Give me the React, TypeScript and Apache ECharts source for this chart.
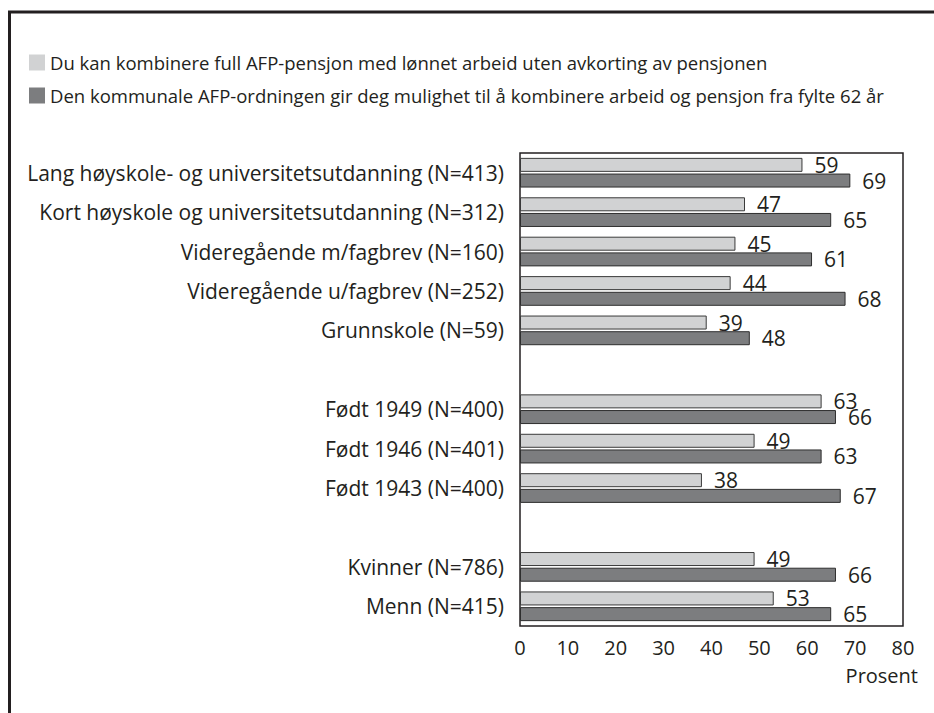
import React, { useEffect, useRef } from "react";
import * as echarts from "echarts";

const categories = [
  "Lang høyskole- og universitetsutdanning (N=413)",
  "Kort høyskole og universitetsutdanning (N=312)",
  "Videregående m/fagbrev (N=160)",
  "Videregående u/fagbrev (N=252)",
  "Grunnskole (N=59)",
  "",
  "Født 1949 (N=400)",
  "Født 1946 (N=401)",
  "Født 1943 (N=400)",
  " ",
  "Kvinner (N=786)",
  "Menn (N=415)",
];

const seriesNames = [
  "Du kan kombinere full AFP-pensjon med lønnet arbeid uten avkorting av pensjonen",
  "Den kommunale AFP-ordningen gir deg mulighet til å kombinere arbeid og pensjon fra fylte 62 år",
];

const lightValues = [59, 47, 45, 44, 39, "-", 63, 49, 38, "-", 49, 53];
const darkValues = [69, 65, 61, 68, 48, "-", 66, 63, 67, "-", 66, 65];

const xTicks = [0, 10, 20, 30, 40, 50, 60, 70, 80];

const FONT = "'Open Sans', 'Noto Sans', sans-serif";
const INK = "#231f20";

export default function App() {
  const ref = useRef<HTMLDivElement>(null);
  useEffect(() => {
    document.body.style.margin = "0";
    const chart = echarts.init(ref.current!, null, { renderer: "svg" });
    const labelStyle = {
      show: true,
      position: "right" as const,
      distance: 12,
      fontSize: 21,
      fontFamily: FONT,
      color: INK,
    };
    chart.setOption({
      animation: false,
      backgroundColor: "#ffffff",
      textStyle: { fontFamily: FONT },
      legend: {
        orient: "vertical",
        left: 29,
        top: 53,
        padding: 0,
        itemWidth: 16,
        itemHeight: 16,
        itemGap: 14,
        icon: "rect",
        itemStyle: { borderWidth: 0 },
        textStyle: { fontSize: 18.5, lineHeight: 18, color: INK, fontFamily: FONT },
        data: seriesNames,
      },
      grid: {
        left: 520,
        right: 31,
        top: 153,
        bottom: 87,
        show: true,
        borderColor: INK,
        borderWidth: 1.5,
      },
      xAxis: {
        type: "value",
        min: xTicks[0],
        max: xTicks[xTicks.length - 1],
        interval: 10,
        axisLine: { show: false },
        axisTick: { show: false },
        splitLine: { show: false },
        axisLabel: { fontSize: 20, color: INK, margin: 11, fontFamily: FONT },
      },
      yAxis: {
        type: "category",
        inverse: true,
        data: categories,
        axisLine: { show: false },
        axisTick: { show: false },
        axisLabel: { fontSize: 21, color: INK, margin: 16, fontFamily: FONT },
      },
      graphic: [
        {
          type: "line",
          shape: { x1: 9.5, y1: 11, x2: 9.5, y2: 713 },
          style: { stroke: INK, lineWidth: 3 },
        },
        {
          type: "line",
          shape: { x1: 8, y1: 12, x2: 934, y2: 12 },
          style: { stroke: INK, lineWidth: 3 },
        },
        {
          type: "text",
          x: 918,
          y: 675,
          style: {
            text: "Prosent",
            align: "right",
            verticalAlign: "middle",
            fontSize: 20,
            fontFamily: FONT,
            fill: INK,
          },
        },
      ],
      series: [
        {
          name: seriesNames[0],
          type: "bar",
          data: lightValues,
          barWidth: 14,
          barGap: "12%",
          itemStyle: { color: "#d1d2d3", borderColor: "#3a3a3a", borderWidth: 1 },
          label: labelStyle,
        },
        {
          name: seriesNames[1],
          type: "bar",
          data: darkValues,
          barWidth: 14,
          itemStyle: { color: "#7c7d7f", borderColor: "#2e2e2e", borderWidth: 1 },
          label: labelStyle,
        },
      ],
    });
    return () => chart.dispose();
  }, []);
  return <div ref={ref} style={{ width: 934, height: 713 }} />;
}
